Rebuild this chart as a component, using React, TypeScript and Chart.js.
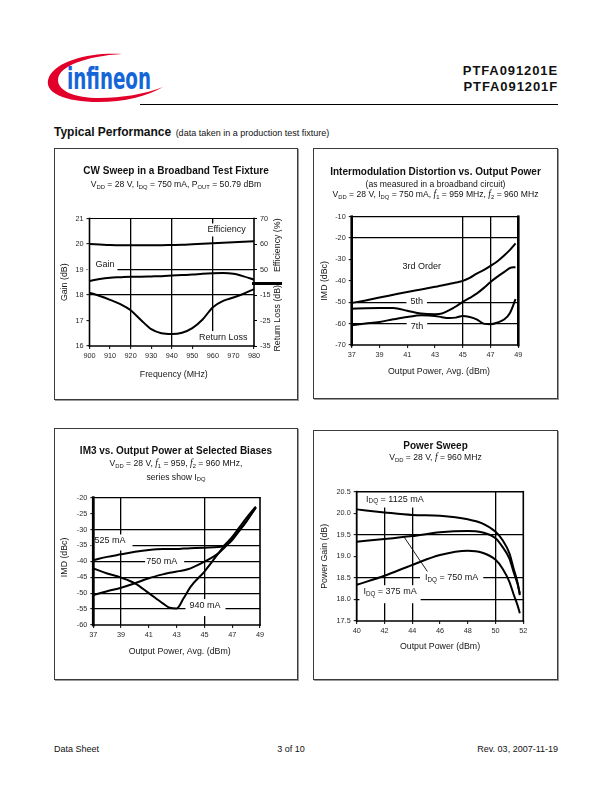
import React, { useEffect, useRef } from "react";
import { Chart, registerables } from "chart.js";
Chart.register(...registerables);

const FONT = '"Liberation Sans", Arial, Helvetica, sans-serif';

// ---------- Chart 1: CW Sweep ----------
const cwFreq = [900, 905, 910, 915, 920, 925, 930, 935, 940, 945, 950, 955, 960, 965, 970, 975, 980];
const cwGain = [18.55, 18.63, 18.68, 18.7, 18.72, 18.72, 18.73, 18.74, 18.76, 18.78, 18.8, 18.83, 18.85, 18.86, 18.83, 18.73, 18.6];
const cwEff = [60.0, 59.8, 59.6, 59.5, 59.5, 59.5, 59.5, 59.5, 59.6, 59.7, 59.9, 60.1, 60.3, 60.5, 60.7, 60.9, 61.1];
const cwRL = [-14.1, -15.4, -16.9, -18.6, -21.0, -24.8, -28.4, -30.0, -30.3, -29.8, -28.0, -24.6, -19.8, -17.3, -16.0, -14.5, -12.7];
const cwRightTickValues = [20, 30, 40, 50, 60, 70];
const cwRightTickLabels = ["-35", "-25", "-15", "50", "60", "70"];

// ---------- Chart 2: IMD vs output power ----------
const imdPout = [37, 38, 39, 40, 41, 42, 43, 43.5, 44, 44.5, 45, 45.5, 46, 46.5, 47, 47.5, 48, 48.4, 48.8];
const imd3rd = [-50.3, -49.2, -47.8, -46.5, -45.2, -44.0, -42.8, -42.2, -41.5, -40.8, -40.0, -38.6, -36.6, -35.0, -33.0, -30.8, -28.0, -25.5, -22.5];
const imd5th = [-53.0, -52.8, -52.7, -52.7, -54.0, -55.3, -55.6, -55.3, -53.8, -52.0, -49.8, -48.0, -46.0, -43.4, -40.5, -38.0, -35.8, -34.0, -33.6];
const imd7th = [-60.8, -60.0, -59.2, -58.0, -56.9, -56.1, -56.4, -57.0, -57.4, -57.2, -56.4, -56.9, -58.0, -60.0, -60.3, -59.5, -58.0, -55.0, -48.6];

// ---------- Chart 3: IM3 at selected biases ----------
const im3Pout = [37, 38, 39, 40, 41, 42, 42.5, 43, 43.5, 44, 45, 46, 46.5, 47, 47.5, 48, 48.7];
const im3Idq525 = [-39.6, -38.6, -37.8, -37.0, -36.4, -36.1, -36.1, -36.1, -36.0, -35.9, -35.7, -35.5, -34.9, -32.8, -30.2, -27.5, -23.1];
const im3Idq750 = [-50.6, -49.4, -48.3, -46.9, -45.3, -44.1, -43.6, -43.2, -42.8, -42.2, -40.1, -37.5, -35.4, -33.3, -30.5, -27.6, -23.0];
const im3Idq940 = [-42.2, -43.8, -45.1, -46.9, -50.0, -53.2, -54.6, -54.8, -51.6, -48.0, -43.2, -37.5, -34.7, -32.3, -29.4, -26.5, -22.8];

// ---------- Chart 4: Power sweep ----------
const psPout = [40, 42, 44, 46, 48, 49, 50, 50.5, 51, 51.3, 51.6, 51.75];
const psIdq1125 = [20.09, 20.02, 19.96, 19.94, 19.86, 19.77, 19.57, 19.38, 19.07, 18.72, 18.37, 18.1];
const psIdq750 = [19.34, 19.4, 19.47, 19.56, 19.59, 19.56, 19.42, 19.22, 18.95, 18.64, 18.34, 18.14];
const psIdq375 = [18.34, 18.55, 18.8, 19.03, 19.13, 19.09, 18.92, 18.72, 18.41, 18.12, 17.85, 17.68];

type Rect = { l: number; t: number; r: number; b: number };
type Lbl = { text: string; x: number; y: number; axis?: string; pl?: number; pr?: number; pt?: number; pb?: number };
type ATitle = { text: string; hx: "left" | "right" | "center"; dx: number; vy: "mid" | "bottom"; dy: number; rot: number };
type Frame = { l: number; r: number; t: number; b: number };
type PluginCfg = {
  labels: Lbl[];
  titles: ATitle[];
  frame: Frame;
  pointers?: { x1: number; y1: number; x2: number; y2: number }[];
  bar?: { y: number; from: number; to: number };
};

function parseRich(text: string) {
  const parts: { t: string; sub: boolean }[] = [];
  const re = /_\{([^}]*)\}/g;
  let last = 0;
  let m: RegExpExecArray | null;
  while ((m = re.exec(text))) {
    if (m.index > last) parts.push({ t: text.slice(last, m.index), sub: false });
    parts.push({ t: m[1], sub: true });
    last = m.index + m[0].length;
  }
  if (last < text.length) parts.push({ t: text.slice(last), sub: false });
  return parts;
}

function measureRich(ctx: CanvasRenderingContext2D, text: string, size: number) {
  let w = 0;
  for (const p of parseRich(text)) {
    ctx.font = `${p.sub ? size * 0.7 : size}px ${FONT}`;
    w += ctx.measureText(p.t).width;
  }
  return w;
}

function drawRich(ctx: CanvasRenderingContext2D, text: string, cx: number, cy: number, size: number, rot = 0) {
  const w = measureRich(ctx, text, size);
  ctx.save();
  ctx.translate(cx, cy);
  ctx.rotate(rot);
  ctx.textBaseline = "middle";
  ctx.textAlign = "left";
  ctx.fillStyle = "#151515";
  let x = -w / 2;
  for (const p of parseRich(text)) {
    ctx.font = `${p.sub ? size * 0.7 : size}px ${FONT}`;
    ctx.fillText(p.t, x, p.sub ? size * 0.3 : 0);
    x += ctx.measureText(p.t).width;
  }
  ctx.restore();
}

function makePlugin(cfg: PluginCfg) {
  const LS = 9;
  return {
    id: "pageDecor",
    beforeDatasetsDraw(chart: any) {
      const ctx: CanvasRenderingContext2D = chart.ctx;
      const xs = chart.scales.x;
      for (const l of cfg.labels) {
        const ys = chart.scales[l.axis || "y"];
        const px = xs.getPixelForValue(l.x);
        const py = ys.getPixelForValue(l.y);
        const w = measureRich(ctx, l.text, LS);
        const pl = l.pl ?? 3, pr = l.pr ?? 3, pt = l.pt ?? 2, pb = l.pb ?? 2;
        ctx.save();
        ctx.fillStyle = "#ffffff";
        ctx.fillRect(px - w / 2 - pl, py - LS / 2 - pt, w + pl + pr, LS + pt + pb);
        ctx.restore();
        drawRich(ctx, l.text, px, py, LS);
      }
      if (cfg.pointers) {
        const ys = chart.scales.y;
        ctx.save();
        ctx.strokeStyle = "#000";
        ctx.lineWidth = 0.9;
        for (const p of cfg.pointers) {
          ctx.beginPath();
          ctx.moveTo(xs.getPixelForValue(p.x1), ys.getPixelForValue(p.y1));
          ctx.lineTo(xs.getPixelForValue(p.x2), ys.getPixelForValue(p.y2));
          ctx.stroke();
        }
        ctx.restore();
      }
    },
    afterDatasetsDraw(chart: any) {
      const ctx: CanvasRenderingContext2D = chart.ctx;
      const a = chart.chartArea;
      const f = cfg.frame;
      ctx.save();
      ctx.strokeStyle = "#000";
      ctx.lineCap = "square";
      const seg = (w: number, x1: number, y1: number, x2: number, y2: number) => {
        if (w <= 0) return;
        ctx.lineWidth = w;
        ctx.beginPath();
        ctx.moveTo(x1, y1);
        ctx.lineTo(x2, y2);
        ctx.stroke();
      };
      seg(f.t, a.left, a.top, a.right, a.top);
      seg(f.b, a.left, a.bottom, a.right, a.bottom);
      seg(f.l, a.left, a.top, a.left, a.bottom);
      seg(f.r, a.right, a.top, a.right, a.bottom);
      if (cfg.bar) {
        const y = chart.scales.y.getPixelForValue(cfg.bar.y);
        ctx.lineCap = "butt";
        seg(3, a.right + cfg.bar.from, y, a.right + cfg.bar.to, y);
      }
      ctx.restore();
    },
    afterDraw(chart: any) {
      const ctx: CanvasRenderingContext2D = chart.ctx;
      const a = chart.chartArea;
      for (const t of cfg.titles) {
        const bx = t.hx === "left" ? a.left : t.hx === "right" ? a.right : (a.left + a.right) / 2;
        const by = t.vy === "bottom" ? a.bottom : (a.top + a.bottom) / 2;
        drawRich(ctx, t.text, bx + t.dx, by + t.dy, 8.8, t.rot);
      }
    },
  };
}

function pts(xs: number[], ys: number[]) {
  return xs.map((x, i) => ({ x, y: ys[i] }));
}

function lineDs(xs: number[], ys: number[], axis = "y") {
  return {
    data: pts(xs, ys),
    yAxisID: axis,
    borderColor: "#000",
    borderWidth: 2,
    pointRadius: 0,
    fill: false,
    tension: 0.4,
    cubicInterpolationMode: "monotone",
  };
}

function linAxis(min: number, max: number, step: number, grid: number[], extraTicks: any = {}) {
  return {
    type: "linear",
    min,
    max,
    ticks: {
      stepSize: step,
      autoSkip: false,
      maxRotation: 0,
      font: { family: FONT, size: 7.3 },
      color: "#2a2a2a",
      padding: 3,
      ...extraTicks,
    },
    grid: {
      color: (c: any) =>
        c.tick && grid.some((g) => Math.abs(g - c.tick.value) < 1e-6) ? "#000" : "rgba(0,0,0,0)",
      lineWidth: 1.3,
      drawTicks: true,
      tickLength: 3,
      tickColor: "#000",
      tickWidth: 1,
    },
    border: { display: false },
  };
}

function baseOptions(box: Rect, plot: Rect, hasRight: boolean, scales: any) {
  return {
    responsive: false,
    animation: false,
    events: [],
    layout: {
      padding: { top: plot.t - box.t, left: 0, bottom: 0, right: hasRight ? 0 : box.r - plot.r },
    },
    plugins: { legend: { display: false }, tooltip: { enabled: false }, title: { display: false } },
    scales,
  };
}

function fitX(box: Rect, plot: Rect) {
  return (s: any) => {
    s.height = box.b - plot.b;
  };
}
function fitL(box: Rect, plot: Rect) {
  return (s: any) => {
    s.width = plot.l - box.l;
  };
}
function fitR(box: Rect, plot: Rect) {
  return (s: any) => {
    s.width = box.r - plot.r;
  };
}

function cwConfig(box: Rect, plot: Rect) {
  return {
    type: "line",
    data: {
      datasets: [lineDs(cwFreq, cwGain, "y"), lineDs(cwFreq, cwEff, "yEff"), lineDs(cwFreq, cwRL, "yRL")],
    },
    options: baseOptions(box, plot, true, {
      x: { ...linAxis(900, 980, 10, [920, 940, 960]), afterFit: fitX(box, plot) },
      y: { ...linAxis(16, 21, 1, [18, 19]), afterFit: fitL(box, plot) },
      yEff: {
        ...linAxis(20, 70, 10, [], {
          callback: (v: number) => {
            const i = cwRightTickValues.indexOf(v);
            return i >= 0 ? cwRightTickLabels[i] : "";
          },
        }),
        position: "right",
        grid: { drawOnChartArea: false, drawTicks: true, tickLength: 3, tickColor: "#000" },
        afterFit: fitR(box, plot),
      },
      yRL: { type: "linear", display: false, min: -35, max: 15 },
    }),
    plugins: [
      makePlugin({
        labels: [
          { text: "Efficiency", x: 966.7, y: 20.55 },
          { text: "Gain", x: 907.5, y: 19.2, pl: 8, pr: 3, pt: 2, pb: 6 },
          { text: "Return Loss", x: 965.1, y: 16.33, pt: 2, pb: 8 },
        ],
        titles: [
          { text: "Gain (dB)", hx: "left", dx: -24.5, vy: "mid", dy: 0, rot: -Math.PI / 2 },
          { text: "Frequency (MHz)", hx: "center", dx: 2, vy: "bottom", dy: 29, rot: 0 },
          { text: "Efficiency (%)", hx: "right", dx: 24, vy: "mid", dy: -37, rot: -Math.PI / 2 },
          { text: "Return Loss (dB)", hx: "right", dx: 24, vy: "mid", dy: 36, rot: -Math.PI / 2 },
        ],
        frame: { l: 1.6, r: 1.6, t: 1.2, b: 1.6 },
        bar: { y: 18.45, from: -2, to: 28 },
      }),
    ],
  };
}

function imdConfig(box: Rect, plot: Rect) {
  return {
    type: "line",
    data: {
      datasets: [lineDs(imdPout, imd3rd), lineDs(imdPout, imd5th), lineDs(imdPout, imd7th)],
    },
    options: baseOptions(box, plot, false, {
      x: { ...linAxis(37, 49, 2, [45, 47]), afterFit: fitX(box, plot) },
      y: { ...linAxis(-70, -10, 10, [-20, -50, -60]), afterFit: fitL(box, plot) },
    }),
    plugins: [
      makePlugin({
        labels: [
          { text: "3rd Order", x: 42.04, y: -33.4 },
          { text: "5th", x: 41.68, y: -49.75, pl: 4, pr: 4 },
          { text: "7th", x: 41.7, y: -61.4, pl: 4, pr: 4, pt: 3 },
        ],
        titles: [
          { text: "IMD (dBc)", hx: "left", dx: -26.7, vy: "mid", dy: 0, rot: -Math.PI / 2 },
          { text: "Output Power, Avg. (dBm)", hx: "center", dx: 4, vy: "bottom", dy: 26.7, rot: 0 },
        ],
        frame: { l: 2.6, r: 2.6, t: 1.2, b: 1.6 },
      }),
    ],
  };
}

function im3Config(box: Rect, plot: Rect) {
  return {
    type: "line",
    data: {
      datasets: [lineDs(im3Pout, im3Idq525), lineDs(im3Pout, im3Idq750), lineDs(im3Pout, im3Idq940)],
    },
    options: baseOptions(box, plot, false, {
      x: { ...linAxis(37, 49, 2, [39, 45]), afterFit: fitX(box, plot) },
      y: { ...linAxis(-60, -20, 5, [-30, -35, -40, -45, -50, -55]), afterFit: fitL(box, plot) },
    }),
    plugins: [
      makePlugin({
        labels: [
          { text: "525 mA", x: 38.2, y: -33.6, pl: 3, pr: 7, pt: 2, pb: 5 },
          { text: "750 mA", x: 41.92, y: -40.1, pl: 1, pr: 7 },
          { text: "940 mA", x: 45.04, y: -53.9, pl: 4, pr: 5, pt: 2, pb: 6 },
        ],
        titles: [
          { text: "IMD (dBc)", hx: "left", dx: -28.3, vy: "mid", dy: -4, rot: -Math.PI / 2 },
          { text: "Output Power, Avg. (dBm)", hx: "center", dx: 3, vy: "bottom", dy: 26.7, rot: 0 },
        ],
        frame: { l: 2.8, r: 1.6, t: 1.2, b: 1.6 },
      }),
    ],
  };
}

function psConfig(box: Rect, plot: Rect) {
  return {
    type: "line",
    data: {
      datasets: [lineDs(psPout, psIdq1125), lineDs(psPout, psIdq750), lineDs(psPout, psIdq375)],
    },
    options: baseOptions(box, plot, false, {
      x: { ...linAxis(40, 52, 2, [42, 44, 50]), afterFit: fitX(box, plot) },
      y: {
        ...linAxis(17.5, 20.5, 0.5, [18.0, 18.5, 19.5], { callback: (v: number) => v.toFixed(1) }),
        afterFit: fitL(box, plot),
      },
    }),
    plugins: [
      makePlugin({
        labels: [
          { text: "I_{DQ} = 1125 mA", x: 42.75, y: 20.33, pl: 4, pr: 4, pt: 3, pb: 4 },
          { text: "I_{DQ} = 750 mA", x: 46.84, y: 18.5, pl: 5, pr: 5 },
          { text: "I_{DQ} = 375 mA", x: 42.4, y: 18.18, pl: 4, pr: 4, pt: 2, pb: 7 },
        ],
        pointers: [{ x1: 43.41, y1: 19.45, x2: 45.09, y2: 18.65 }],
        titles: [
          { text: "Power Gain (dB)", hx: "left", dx: -31.7, vy: "mid", dy: 0, rot: -Math.PI / 2 },
          { text: "Output Power (dBm)", hx: "center", dx: 0, vy: "bottom", dy: 25.7, rot: 0 },
        ],
        frame: { l: 1.8, r: 1.6, t: 1.4, b: 1.6 },
      }),
    ],
  };
}

function ChartPanel({ box, plot, make }: { box: Rect; plot: Rect; make: (b: Rect, p: Rect) => any }) {
  const ref = useRef<HTMLCanvasElement | null>(null);
  useEffect(() => {
    if (!ref.current) return;
    const chart = new Chart(ref.current, make(box, plot));
    return () => chart.destroy();
  }, []);
  const w = box.r - box.l;
  const h = box.b - box.t;
  return (
    <>
      <div
        style={{
          position: "absolute",
          left: box.l,
          top: box.t,
          width: w - 2,
          height: h - 2,
          border: "1px solid #3a3a3a",
          boxShadow: "1px 1px 0 #9a9a9a",
        }}
      />
      <canvas
        ref={ref}
        width={w}
        height={h}
        style={{ position: "absolute", left: box.l, top: box.t, width: w, height: h }}
      />
    </>
  );
}

const Sub = ({ children }: { children: any }) => (
  <span style={{ fontSize: "0.68em", position: "relative", top: "0.3em" }}>{children}</span>
);
const F = ({ n }: { n?: string }) => (
  <>
    <i style={{ fontFamily: '"Liberation Serif", serif', fontSize: "1.1em" }}>f</i>
    {n ? <Sub>{n}</Sub> : null}
  </>
);

function Center({ x, y, size, bold, children }: { x: number; y: number; size: number; bold?: boolean; children: any }) {
  return (
    <div
      style={{
        position: "absolute",
        left: x,
        top: y,
        transform: "translate(-50%, -50%)",
        whiteSpace: "nowrap",
        fontSize: size,
        fontWeight: bold ? "bold" : "normal",
        lineHeight: 1,
        color: "#111",
      }}
    >
      {children}
    </div>
  );
}

function Logo() {
  return (
    <svg style={{ position: "absolute", left: 0, top: 0 }} width={200} height={120}>
      <path
        d="M122,54 C92,52 57,60 49,77 C42,93 66,102 98,102 C125,102 147,96 163,87 C145,94 122,98 99,98 C75,98 58,91 58,80 C58,66 87,56 122,54 Z"
        fill="#e2002b"
      />
      <text
        x={67}
        y={89}
        fontSize={30}
        fontWeight="bold"
        fill="#1466d8"
        textLength={84}
        lengthAdjust="spacingAndGlyphs"
        fontFamily='"Liberation Sans Narrow", "DejaVu Sans Condensed", "Liberation Sans", sans-serif'
      >
        infineon
      </text>
    </svg>
  );
}

const box1: Rect = { l: 54, t: 148, r: 298, b: 400 };
const plot1: Rect = { l: 89.5, t: 218.5, r: 254, b: 346 };
const box2: Rect = { l: 313, t: 148, r: 558, b: 399 };
const plot2: Rect = { l: 351.7, t: 216.7, r: 518.3, b: 345 };
const box3: Rect = { l: 54, t: 428, r: 298, b: 680 };
const plot3: Rect = { l: 93.3, t: 497.7, r: 260, b: 625 };
const box4: Rect = { l: 313, t: 430, r: 558, b: 680 };
const plot4: Rect = { l: 356.7, t: 491.7, r: 523.3, b: 621 };

export default function App() {
  return (
    <div
      style={{
        position: "absolute",
        left: 0,
        top: 0,
        width: 612,
        height: 792,
        background: "#fff",
        fontFamily: FONT,
        color: "#111",
        overflow: "hidden",
      }}
    >
      <Logo />
      <div
        style={{
          position: "absolute",
          right: 612 - 558,
          top: 63,
          fontWeight: "bold",
          fontSize: 13,
          letterSpacing: 0.9,
          lineHeight: "16px",
          textAlign: "right",
        }}
      >
        PTFA091201E
        <br />
        PTFA091201F
      </div>
      <div style={{ position: "absolute", left: 140, top: 104, width: 418, height: 0, borderTop: "1.5px solid #000" }} />
      <div style={{ position: "absolute", left: 54, top: 124, whiteSpace: "nowrap", lineHeight: "14px" }}>
        <span style={{ fontWeight: "bold", fontSize: 12 }}>Typical Performance</span>{" "}
        <span style={{ fontSize: 9 }}>(data taken in a production test fixture)</span>
      </div>

      <ChartPanel box={box1} plot={plot1} make={cwConfig} />
      <Center x={176} y={171} size={10} bold>
        CW Sweep in a Broadband Test Fixture
      </Center>
      <Center x={176} y={184} size={8.6}>
        V<Sub>DD</Sub> = 28 V, I<Sub>DQ</Sub> = 750 mA, P<Sub>OUT</Sub> = 50.79 dBm
      </Center>

      <ChartPanel box={box2} plot={plot2} make={imdConfig} />
      <Center x={435.5} y={172} size={10} bold>
        Intermodulation Distortion vs. Output Power
      </Center>
      <Center x={435.5} y={183.5} size={8.6}>
        (as measured in a broadband circuit)
      </Center>
      <Center x={435.5} y={195} size={8.6}>
        V<Sub>DD</Sub> = 28 V, I<Sub>DQ</Sub> = 750 mA, <F n="1" /> = 959 MHz, <F n="2" /> = 960 MHz
      </Center>

      <ChartPanel box={box3} plot={plot3} make={im3Config} />
      <Center x={176} y={451} size={10} bold>
        IM3 vs. Output Power at Selected Biases
      </Center>
      <Center x={176} y={464} size={8.6}>
        V<Sub>DD</Sub> = 28 V, <F n="1" /> = 959, <F n="2" /> = 960 MHz,
      </Center>
      <Center x={176} y={476.5} size={8.6}>
        series show I<Sub>DQ</Sub>
      </Center>

      <ChartPanel box={box4} plot={plot4} make={psConfig} />
      <Center x={435.5} y={445.5} size={10} bold>
        Power Sweep
      </Center>
      <Center x={435.5} y={458.3} size={8.6}>
        V<Sub>DD</Sub> = 28 V, <F /> = 960 MHz
      </Center>

      <div style={{ position: "absolute", left: 54, top: 744, fontSize: 9, lineHeight: "11px" }}>Data Sheet</div>
      <div style={{ position: "absolute", left: 291, top: 744, fontSize: 9, lineHeight: "11px", transform: "translateX(-50%)" }}>
        3 of 10
      </div>
      <div style={{ position: "absolute", right: 612 - 558, top: 744, fontSize: 9, lineHeight: "11px" }}>
        Rev. 03, 2007-11-19
      </div>
    </div>
  );
}
